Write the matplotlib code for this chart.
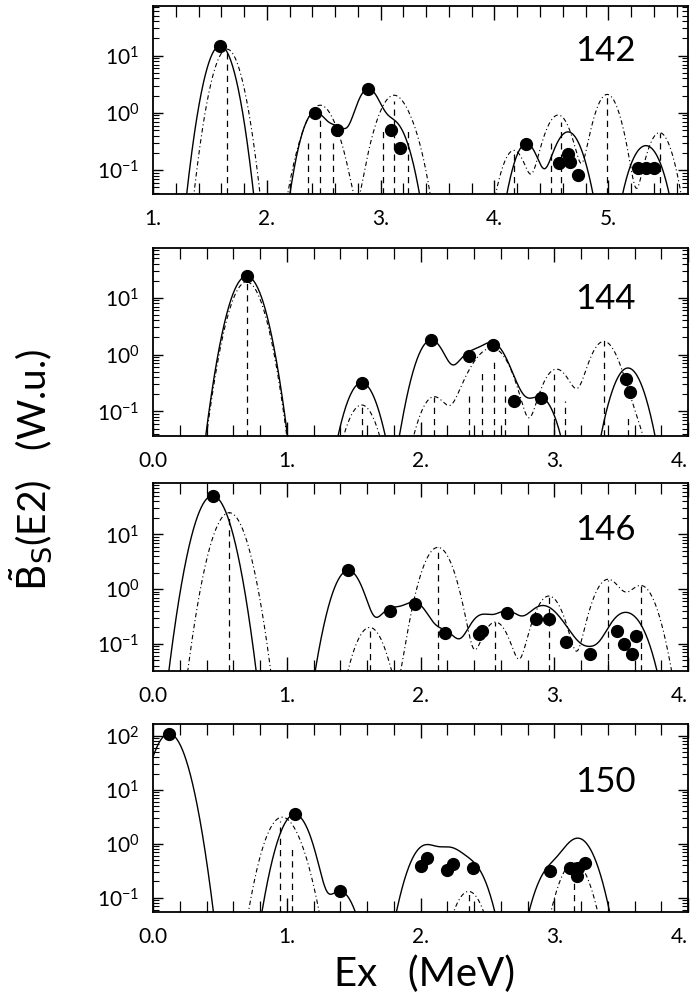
import numpy as np
import matplotlib
matplotlib.use("Agg")
import matplotlib.pyplot as plt
from matplotlib.ticker import FixedLocator, MultipleLocator, LogLocator, NullFormatter

plt.rcParams['font.family'] = ['Lato', 'DejaVu Sans']
plt.rcParams['mathtext.default'] = 'regular'

# -----------------------------
# DATA
# -----------------------------
nuclei = ["142", "144", "146", "150"]

# experimental strengths (filled circles)
exp_e_142 = [1.59, 2.42, 2.62, 2.89, 3.09, 3.17, 4.28, 4.57, 4.65, 4.66, 4.73, 5.26, 5.33, 5.40]
exp_b_142 = [15, 1.0, 0.51, 2.6, 0.51, 0.24, 0.29, 0.135, 0.19, 0.136, 0.081, 0.11, 0.11, 0.11]
exp_e_144 = [0.70, 1.56, 2.08, 2.36, 2.54, 2.70, 2.90, 3.54, 3.57]
exp_b_144 = [24, 0.32, 1.8, 0.95, 1.5, 0.15, 0.17, 0.37, 0.22]
exp_e_146 = [0.445, 1.46, 1.77, 1.96, 2.18, 2.44, 2.46, 2.65, 2.86, 2.96, 3.09, 3.27, 3.47, 3.52, 3.58, 3.61]
exp_b_146 = [51, 2.2, 0.40, 0.54, 0.16, 0.15, 0.17, 0.37, 0.29, 0.29, 0.11, 0.066, 0.17, 0.10, 0.065, 0.14]
exp_e_150 = [0.12, 1.06, 1.40, 2.00, 2.05, 2.20, 2.24, 2.39, 2.97, 3.12, 3.17, 3.18, 3.23]
exp_b_150 = [110, 3.5, 0.13, 0.38, 0.54, 0.33, 0.42, 0.36, 0.31, 0.36, 0.25, 0.36, 0.43]

# calculated strengths (dashed sticks)
th_e_142 = [1.65, 2.36, 2.47, 2.58, 3.02, 3.12, 3.24, 4.17, 4.50, 4.58, 4.99, 5.45]
th_b_142 = [13, 0.3, 1.1, 0.3, 0.5, 1.6, 0.5, 0.22, 0.3, 0.7, 2.1, 0.45]
th_e_144 = [0.70, 1.56, 2.10, 2.36, 2.46, 2.55, 2.63, 3.00, 3.08, 3.37, 3.55]
th_b_144 = [19, 0.13, 0.18, 0.2, 0.5, 0.8, 0.3, 0.45, 0.15, 1.7, 0.08]
th_e_146 = [0.57, 1.62, 2.13, 2.56, 2.96, 3.40, 3.65]
th_b_146 = [25, 0.2, 5.8, 0.25, 0.75, 1.5, 1.15]
th_e_150 = [0.95, 1.04, 2.36, 3.15]
th_b_150 = [2.6, 0.8, 0.13, 0.45]

exp_e = [exp_e_142, exp_e_144, exp_e_146, exp_e_150]
exp_b = [exp_b_142, exp_b_144, exp_b_146, exp_b_150]
th_e = [th_e_142, th_e_144, th_e_146, th_e_150]
th_b = [th_b_142, th_b_144, th_b_146, th_b_150]

xlims = [(1.0, 5.7), (0.0, 4.0), (0.0, 4.0), (0.0, 4.0)]
ylims = [(0.038, 74), (0.037, 75), (0.032, 87), (0.054, 166)]
xticks = [[1, 2, 3, 4, 5], [0, 1, 2, 3, 4], [0, 1, 2, 3, 4], [0, 1, 2, 3, 4]]
xticklabels = [["1.", "2.", "3.", "4.", "5."]] + [["0.0", "1.", "2.", "3.", "4."]] * 3

sigma = 0.085  # gaussian folding width (MeV)


def folded(e, b, grid):
    e = np.asarray(e)[:, None]
    b = np.asarray(b)[:, None]
    return (b * np.exp(-(grid[None, :] - e) ** 2 / (2 * sigma ** 2))).sum(axis=0)


# -----------------------------
# FIGURE
# -----------------------------
fig = plt.figure(figsize=(6.91, 9.92), dpi=100)
W, H = 691.0, 992.0
tops = [6, 248, 483, 724]
ax_h = 188

for i in range(4):
    ax = fig.add_axes([153 / W, 1 - (tops[i] + ax_h) / H, 535 / W, ax_h / H])
    ax.set_yscale('log')
    x0, x1 = xlims[i]
    y0, y1 = ylims[i]
    grid = np.linspace(x0, x1, 1200)

    ax.plot(grid, folded(exp_e[i], exp_b[i], grid), color='black', lw=1.0)
    ax.plot(grid, folded(th_e[i], th_b[i], grid), color='black', lw=0.8,
            linestyle=(0, (4, 2.5, 1, 2.5)))
    ax.vlines(th_e[i], y0, th_b[i], colors='black', lw=0.9, linestyles=(0, (5, 4)))
    ax.plot(exp_e[i], exp_b[i], 'o', color='black', markersize=8.5, clip_on=False)

    ax.set_xlim(x0, x1)
    ax.set_ylim(y0, y1)
    ax.xaxis.set_major_locator(FixedLocator(xticks[i]))
    ax.set_xticklabels(xticklabels[i])
    ax.xaxis.set_minor_locator(MultipleLocator(0.2))
    ax.yaxis.set_major_locator(LogLocator(base=10, numticks=10))
    ax.yaxis.set_minor_locator(LogLocator(base=10, subs=np.arange(2, 10), numticks=10))
    ax.yaxis.set_minor_formatter(NullFormatter())

    ax.tick_params(axis='x', which='both', direction='in', top=True, bottom=True,
                   labelsize=15, pad=11)
    ax.tick_params(axis='x', which='major', length=10, width=1.0)
    ax.tick_params(axis='x', which='minor', length=8, width=0.9)
    ax.tick_params(axis='y', which='both', direction='in', left=True, right=True,
                   labelsize=15, pad=10)
    ax.tick_params(axis='y', which='major', length=7, width=1.0)
    ax.tick_params(axis='y', which='minor', length=4, width=0.8)
    # last label sits at the right edge of the page
    if i > 0:
        ax.get_xticklabels()[-1].set_horizontalalignment('right')
    for s in ax.spines.values():
        s.set_linewidth(1.3)

    ax.text(0.845, [0.76, 0.73, 0.75, 0.69][i], nuclei[i], transform=ax.transAxes,
            fontsize=25, ha='center', va='center')

fig.text(0.045, 0.526, r'$\tilde{\rm B}_{\rm S}$(E2)   (W.u.)', rotation=90,
         fontsize=28, ha='center', va='center')
fig.text(0.615, 0.018, 'Ex   (MeV)', fontsize=29, ha='center', va='center')

fig.savefig("out.png", dpi=100)
